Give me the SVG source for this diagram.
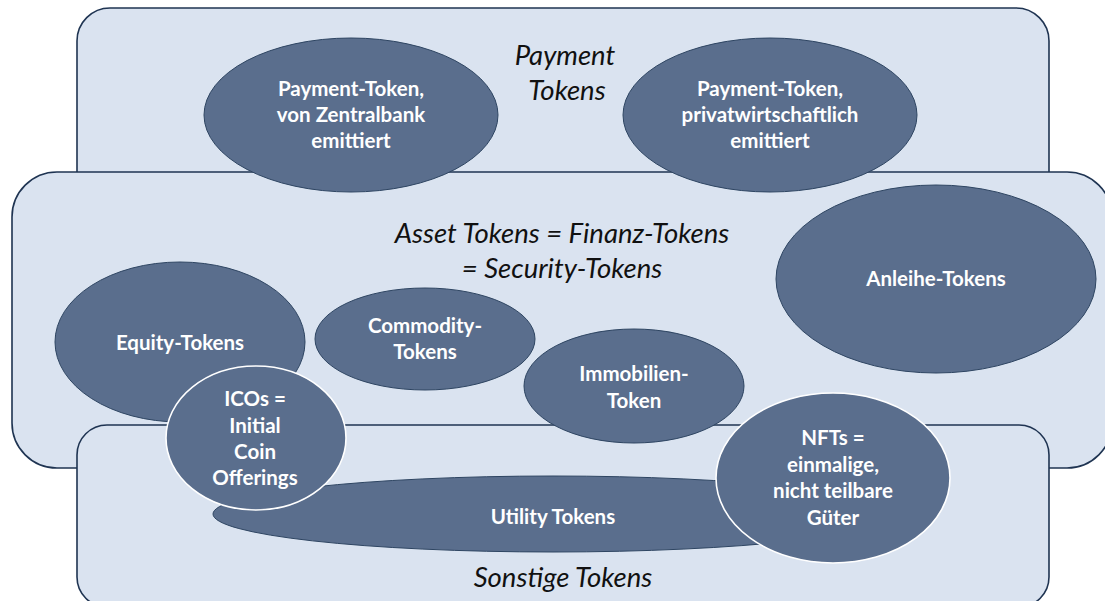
<svg xmlns="http://www.w3.org/2000/svg" width="1105" height="601" viewBox="0 0 1105 601">
  <style>
    .area { fill: #dae3f0; stroke: #1f3452; stroke-width: 1.6; }
    .token { fill: #5a6e8d; stroke: #2e4562; stroke-width: 1; }
    .token-hl { fill: #5a6e8d; stroke: #ffffff; stroke-width: 1.6; }
    .lbl { font-family: Lato, "Liberation Sans", sans-serif; font-weight: bold; font-size: 20.5px; fill: #ffffff; text-anchor: middle; }
    .cat { font-family: Lato, "Liberation Sans", sans-serif; font-style: italic; font-size: 27.5px; fill: #111111; text-anchor: middle; }
  </style>

  <!-- category areas -->
  <g id="area-payment">
    <rect class="area" x="77" y="8" width="972" height="200" rx="33" ry="33"/>
  </g>
  <g id="area-asset">
    <rect class="area" x="12" y="172" width="1100" height="296" rx="45" ry="45"/>
  </g>
  <g id="area-other">
    <rect class="area" x="77" y="425" width="972" height="182" rx="30" ry="30"/>
  </g>

  <!-- category titles -->
  <g id="title-payment">
    <text class="cat" x="565" y="65">Payment</text>
    <text class="cat" x="567" y="100">Tokens</text>
  </g>
  <g id="title-asset">
    <text class="cat" x="562" y="243">Asset Tokens = Finanz-Tokens</text>
    <text class="cat" x="562" y="278">= Security-Tokens</text>
  </g>
  <g id="title-other">
    <text class="cat" x="563" y="587">Sonstige Tokens</text>
  </g>

  <!-- token types -->
  <g id="node-zentralbank">
    <ellipse class="token" cx="351" cy="115" rx="147" ry="77"/>
    <text class="lbl" x="351" y="96">Payment-Token,</text>
    <text class="lbl" x="351" y="122">von Zentralbank</text>
    <text class="lbl" x="351" y="148">emittiert</text>
  </g>
  <g id="node-privat">
    <ellipse class="token" cx="770" cy="115" rx="147" ry="77"/>
    <text class="lbl" x="770" y="96">Payment-Token,</text>
    <text class="lbl" x="770" y="122">privatwirtschaftlich</text>
    <text class="lbl" x="770" y="148">emittiert</text>
  </g>
  <g id="node-anleihe">
    <ellipse class="token" cx="936" cy="279" rx="160" ry="94"/>
    <text class="lbl" x="936" y="286">Anleihe-Tokens</text>
  </g>
  <g id="node-equity">
    <ellipse class="token" cx="180" cy="342" rx="125" ry="80"/>
    <text class="lbl" x="180" y="350">Equity-Tokens</text>
  </g>
  <g id="node-commodity">
    <ellipse class="token" cx="425" cy="339" rx="110" ry="51"/>
    <text class="lbl" x="425" y="333">Commodity-</text>
    <text class="lbl" x="425" y="359">Tokens</text>
  </g>
  <g id="node-immobilien">
    <ellipse class="token" cx="634" cy="386" rx="110" ry="57"/>
    <text class="lbl" x="634" y="381">Immobilien-</text>
    <text class="lbl" x="634" y="408">Token</text>
  </g>
  <g id="node-utility">
    <ellipse class="token" cx="553" cy="514" rx="340" ry="38"/>
    <text class="lbl" x="553" y="524">Utility Tokens</text>
  </g>
  <g id="node-ico">
    <ellipse class="token-hl" cx="256" cy="438" rx="90" ry="72"/>
    <text class="lbl" x="255" y="406">ICOs =</text>
    <text class="lbl" x="255" y="433">Initial</text>
    <text class="lbl" x="255" y="459">Coin</text>
    <text class="lbl" x="255" y="485">Offerings</text>
  </g>
  <g id="node-nft">
    <ellipse class="token-hl" cx="833" cy="478" rx="117" ry="85"/>
    <text class="lbl" x="833" y="445">NFTs =</text>
    <text class="lbl" x="833" y="472">einmalige,</text>
    <text class="lbl" x="833" y="498">nicht teilbare</text>
    <text class="lbl" x="833" y="525">Güter</text>
  </g>
</svg>
